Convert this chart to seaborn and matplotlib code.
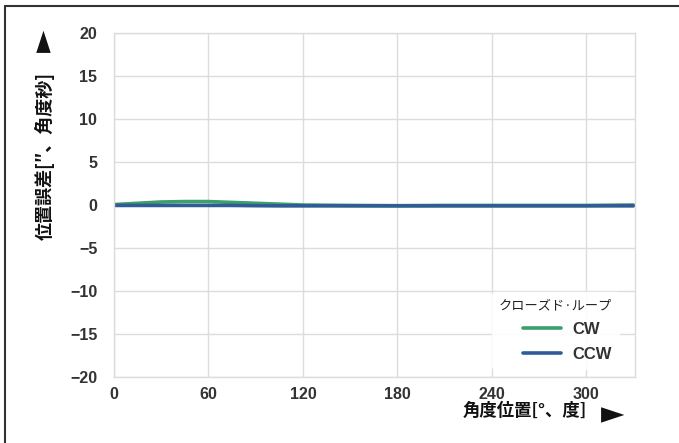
"""位置誤差グラフ (クローズド・ループ)"""

import matplotlib

matplotlib.use("Agg")
import matplotlib.pyplot as plt
import numpy as np
import pandas as pd
import seaborn as sns
from matplotlib.lines import Line2D

# data
angles = [0, 15, 30, 45, 60, 75, 90, 105, 120, 150, 180, 210, 240, 270, 300, 330]
cw_error = [0.05, 0.2, 0.35, 0.4, 0.4, 0.3, 0.2, 0.1, 0.0, -0.05, -0.08, -0.05, -0.05, -0.05, -0.05, 0.0]
ccw_error = [-0.05, -0.05, -0.05, -0.05, -0.05, -0.05, -0.08, -0.1, -0.1, -0.1, -0.1, -0.1, -0.1, -0.1, -0.1, -0.1]
series_names = ["CW", "CCW"]
x_ticks = [0, 60, 120, 180, 240, 300]
y_ticks = [-20, -15, -10, -5, 0, 5, 10, 15, 20]

colors = {"CW": "#3c9f6c", "CCW": "#2f5c96"}

df = pd.DataFrame({
    "angle": angles * 2,
    "error": cw_error + ccw_error,
    "dir": [series_names[0]] * len(angles) + [series_names[1]] * len(angles),
})

sns.set_theme(style="whitegrid")
plt.rcParams["font.family"] = ["Noto Sans CJK JP", "DejaVu Sans"]

fig = plt.figure(figsize=(6.79, 4.43), dpi=100)
ax = fig.add_axes([114 / 679, 1 - 377 / 443, 521 / 679, 344 / 443])

sns.lineplot(data=df, x="angle", y="error", hue="dir", palette=colors,
             linewidth=2.6, ax=ax, legend=False)

ax.set_xlim(0, 331)
ax.set_ylim(-20, 20)
ax.set_xticks(x_ticks)
ax.set_yticks(y_ticks)
ax.set_yticklabels([f"{v}".replace("-", "\u2212") for v in y_ticks])
ax.grid(color="#dcdcdc", linewidth=1.0)
for s in ax.spines.values():
    s.set_color("#dcdcdc")
    s.set_linewidth(1.0)
ax.tick_params(axis="both", length=0, colors="#333333")
ax.tick_params(axis="x", pad=7)
ax.tick_params(axis="y", pad=12)
for lab in ax.get_xticklabels() + ax.get_yticklabels():
    lab.set_family(["Liberation Sans", "DejaVu Sans"])
    lab.set_fontsize(11.5)
    lab.set_fontweight("bold")
ax.set_xlabel("")
ax.set_ylabel("")

handles = [Line2D([], [], color=colors[n], linewidth=2.6) for n in series_names]
leg = ax.legend(handles, series_names, title="クローズド·ループ",
                loc="lower right", bbox_to_anchor=(0.985, 0.0), alignment="right",
                frameon=True, facecolor="white", edgecolor="white", framealpha=0.9,
                handlelength=2.3, handletextpad=0.7, labelspacing=0.6,
                prop={"family": ["Liberation Sans", "DejaVu Sans"], "size": 12, "weight": "bold"})
leg.get_title().set_fontsize(9.5)
leg.get_title().set_color("#222222")
for t in leg.get_texts():
    t.set_color("#333333")

# axis labels with arrows
lab_font = ["Noto Sans CJK JP", "DejaVu Sans"]
fig.text(463 / 679, 1 - 411 / 443, "角度位置[°、度]", fontsize=12.5,
         fontweight="bold", ha="left", va="center", color="#111111", family=lab_font)
fig.text(601 / 679, 1 - 415 / 443, "\u25ba", fontsize=22, ha="left", va="center",
         color="#111111", family=["DejaVu Sans"])
fig.text(45 / 679, 1 - 240 / 443, "位置誤差[″、角度秒]", fontsize=13,
         fontweight="bold", ha="center", va="bottom", rotation=90, color="#111111",
         family=lab_font)
fig.text(44 / 679, 1 - 52 / 443, "\u25ba", fontsize=21, ha="center", va="bottom",
         rotation=90, color="#111111", family=["DejaVu Sans"])

# outer frame (left and top only)
fig.add_artist(Line2D([5 / 679, 5 / 679], [0, 1 - 6 / 443], transform=fig.transFigure,
                      color="#333333", linewidth=1.5))
fig.add_artist(Line2D([5 / 679, 1], [1 - 6 / 443, 1 - 6 / 443], transform=fig.transFigure,
                      color="#333333", linewidth=1.5))

fig.savefig("out.png", dpi=100)
plt.close(fig)
